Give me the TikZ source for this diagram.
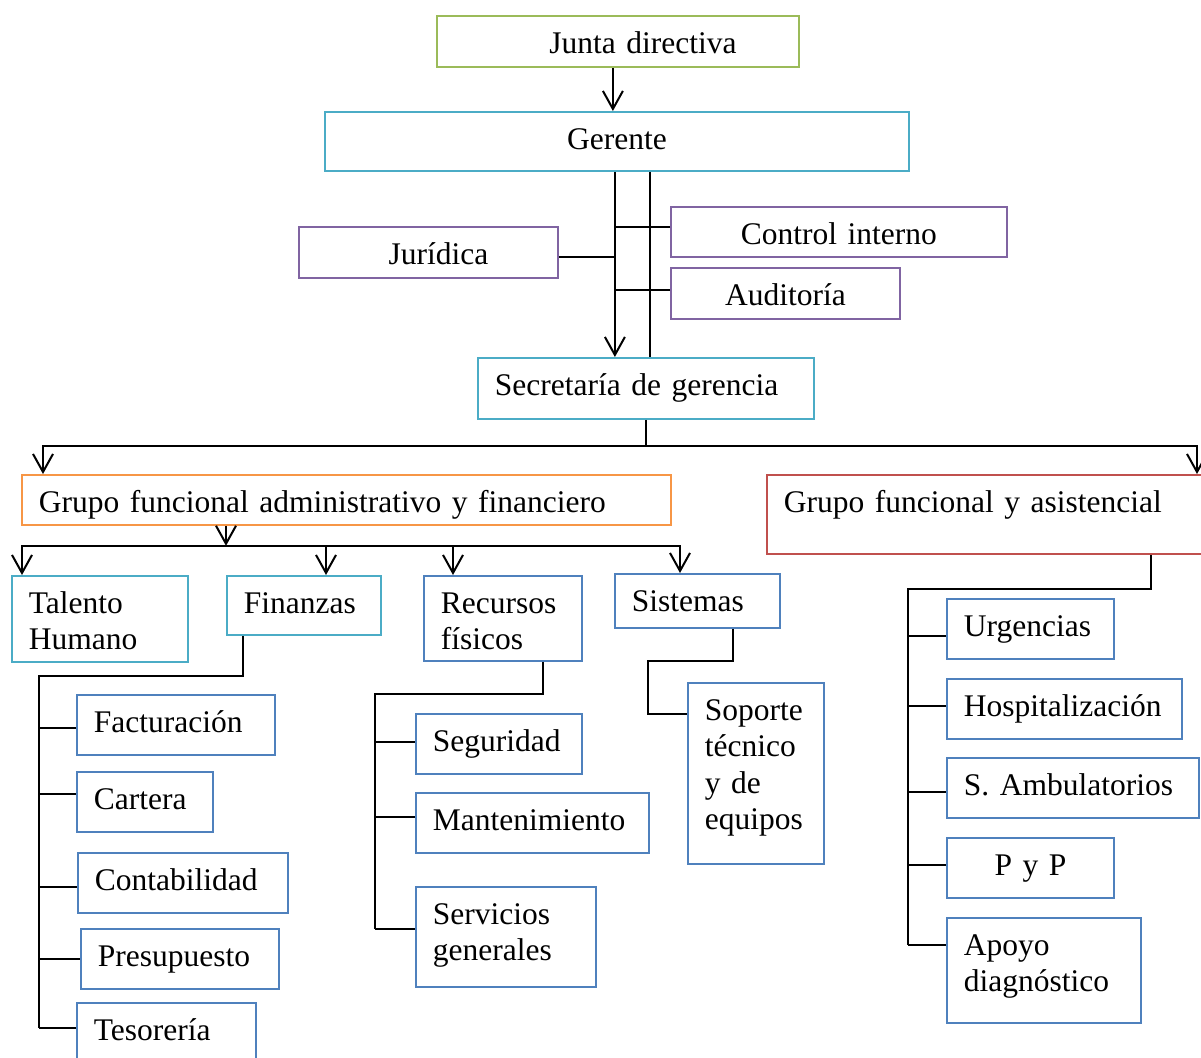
\documentclass[tikz,border=0pt]{standalone}
\usepackage{fontspec}
\setmainfont{Liberation Serif}
\usetikzlibrary{arrows.meta}

\definecolor{bxgreen}{HTML}{9BBB59}
\definecolor{bxcyan}{HTML}{4BACC6}
\definecolor{bxpurple}{HTML}{8064A2}
\definecolor{bxorange}{HTML}{F79646}
\definecolor{bxred}{HTML}{C0504D}
\definecolor{bxblue}{HTML}{4F81BD}

\newcommand\bxfont{\fontsize{31.5}{36.5}\selectfont}

\begin{document}
\begin{tikzpicture}[
  x=1pt, y=-1pt,
  bx/.style={draw=#1, line width=1.8pt, rectangle, anchor=north west,
    inner xsep=17pt, inner ysep=0pt, text height=37.5pt,
    align=left, font=\bxfont, text=black},
  ln/.style={line width=2pt, draw=black},
  arr/.style={ln, -{Straight Barb[length=18pt,width=20pt]}},
]
\useasboundingbox (0,0) rectangle (1201,1057);
\clip (0,0) rectangle (1201,1057);

% ---- top levels ----
\node[bx=bxgreen, align=center, text width=328pt, text depth=13.5pt] (junta) at (436,15) {\hspace*{50pt}Junta directiva};
\node[bx=bxcyan, align=center, text width=550pt, text depth=21.5pt] (gerente) at (324,111) {Gerente};
\node[bx=bxpurple, align=center, text width=225pt, text depth=13.5pt] (jur) at (298,226) {\hspace*{20pt}Jurídica};
\node[bx=bxpurple, align=center, text width=302pt, text depth=12.5pt] (ctrl) at (670,206) {Control interno};
\node[bx=bxpurple, align=center, text width=195pt, text depth=13.5pt] (aud) at (670,267) {Auditoría};
\node[bx=bxcyan, text width=302pt, text depth=23.5pt] (sec) at (477,357) {Secretaría de gerencia};

% ---- functional groups ----
\node[bx=bxorange, text width=615pt, text depth=12.5pt] (gadm) at (21,474) {Grupo funcional administrativo y financiero};
\node[bx=bxred, text width=411pt, text depth=41.5pt] (gasis) at (766,474) {Grupo funcional y asistencial};

% ---- administrative areas ----
\node[bx=bxcyan, text width=142pt, text depth=48.5pt] (tal) at (11,575) {Talento\\Humano};
\node[bx=bxcyan, text width=120pt, text depth=21.5pt] (fin) at (226,575) {Finanzas};
\node[bx=bxblue, text width=124pt, text depth=47.5pt] (rec) at (423,575) {Recursos\\físicos};
\node[bx=bxblue, text width=131pt, text depth=16.5pt] (sis) at (614,573) {Sistemas};

% finance units
\node[bx=bxblue, text width=164pt, text depth=22.5pt] (fac) at (76,694) {Facturación};
\node[bx=bxblue, text width=102pt, text depth=22.5pt] (car) at (76,771) {Cartera};
\node[bx=bxblue, text width=176pt, text depth=22.5pt] (con) at (77,852) {Contabilidad};
\node[bx=bxblue, text width=164pt, text depth=22.5pt] (pre) at (80,928) {Presupuesto};
\node[bx=bxblue, text width=145pt, text depth=32.5pt] (tes) at (76,1002) {Tesorería};

% physical resources units
\node[bx=bxblue, text width=132pt, text depth=22.5pt] (seg) at (415,713) {Seguridad};
\node[bx=bxblue, text width=199pt, text depth=22.5pt] (man) at (415,792) {Mantenimiento};
\node[bx=bxblue, text width=146pt, text depth=62.5pt] (ser) at (415,886) {Servicios\\generales};

% systems unit
\node[bx=bxblue, text width=102pt, text depth=143.5pt] (sop) at (687,682) {Soporte\\técnico\\y de\\equipos};

% care services
\node[bx=bxblue, text width=133pt, text depth=22.5pt] (urg) at (946,598) {Urgencias};
\node[bx=bxblue, text width=201pt, text depth=22.5pt] (hos) at (946,678) {Hospitalización};
\node[bx=bxblue, text width=218pt, text depth=22.5pt] (amb) at (946,757) {S. Ambulatorios};
\node[bx=bxblue, align=center, text width=133pt, text depth=22.5pt] (pyp) at (946,837) {P y P};
\node[bx=bxblue, text width=160pt, text depth=67.5pt] (apo) at (946,917) {Apoyo\\diagnóstico};

% ---- connectors: top ----
\draw[arr] ([xshift=-5pt]junta.south) -- ([xshift=-5pt]junta.south |- gerente.north);
\coordinate (t1) at ([xshift=-2pt]gerente.south);
\coordinate (t2) at ([xshift=33pt]gerente.south);
\draw[arr] (t1) -- (t1 |- sec.north);
\draw[ln] (t2) -- (t2 |- sec.north);
\draw[ln] ([yshift=-4.5pt]jur.east) -- ([yshift=-4.5pt]jur.east -| t1);
\draw[ln] ([yshift=4.5pt]ctrl.west) -- ([yshift=4.5pt]ctrl.west -| t1);
\draw[ln] ([yshift=3.5pt]aud.west) -- ([yshift=3.5pt]aud.west -| t1);

% ---- connectors: groups ----
\coordinate (sb) at ([yshift=-26pt]sec.south);
\draw[arr] (sec.south) -- (sb) -| ([xshift=22pt]gadm.north west);
\draw[arr] (sb) -| ([xshift=431pt]gasis.north west);

\coordinate (ga) at ([xshift=205pt]gadm.south west);
\coordinate (gb) at ([yshift=-20pt]ga);
\draw[arr] (ga) -- (gb);
\draw[arr] (gb) -| ([xshift=11pt]tal.north west);
\draw[arr] (gb) -| ([xshift=100pt]fin.north west);
\draw[arr] (gb) -| ([xshift=30pt]rec.north west);
\draw[arr] (gb) -| ([xshift=66pt]sis.north west);

% ---- connectors: finance ----
\coordinate (fv) at ([xshift=17pt]fin.south west);
\coordinate (ft) at (39,676);
\draw[ln] (fv) |- (ft) -- ([yshift=10pt]tes.west -| ft);
\foreach \n/\dy in {fac/-3,car/8,con/-4,pre/0,tes/10}
  \draw[ln] ([yshift=\dy pt]\n.west -| ft) -- ([yshift=\dy pt]\n.west);

% ---- connectors: physical resources ----
\coordinate (rv) at ([xshift=120pt]rec.south west);
\coordinate (rt) at (375,694);
\draw[ln] (rv) |- (rt) -- ([yshift=8pt]ser.west -| rt);
\foreach \n/\dy in {seg/2,man/6,ser/8}
  \draw[ln] ([yshift=\dy pt]\n.west -| rt) -- ([yshift=\dy pt]\n.west);

% ---- connectors: systems ----
\coordinate (sv) at ([xshift=119pt]sis.south west);
\coordinate (st) at (648,661);
\draw[ln] (sv) |- (st) |- ([yshift=59.5pt]sop.west);

% ---- connectors: care services ----
\coordinate (av) at ([xshift=385pt]gasis.south west);
\coordinate (ak) at (908,589);
\draw[ln] (av) |- (ak) -- ([yshift=25.5pt]apo.west -| ak);
\foreach \n/\dy in {urg/-7,hos/3,amb/-4,pyp/3,apo/25.5}
  \draw[ln] ([yshift=\dy pt]\n.west -| ak) -- ([yshift=\dy pt]\n.west);
\end{tikzpicture}
\end{document}
